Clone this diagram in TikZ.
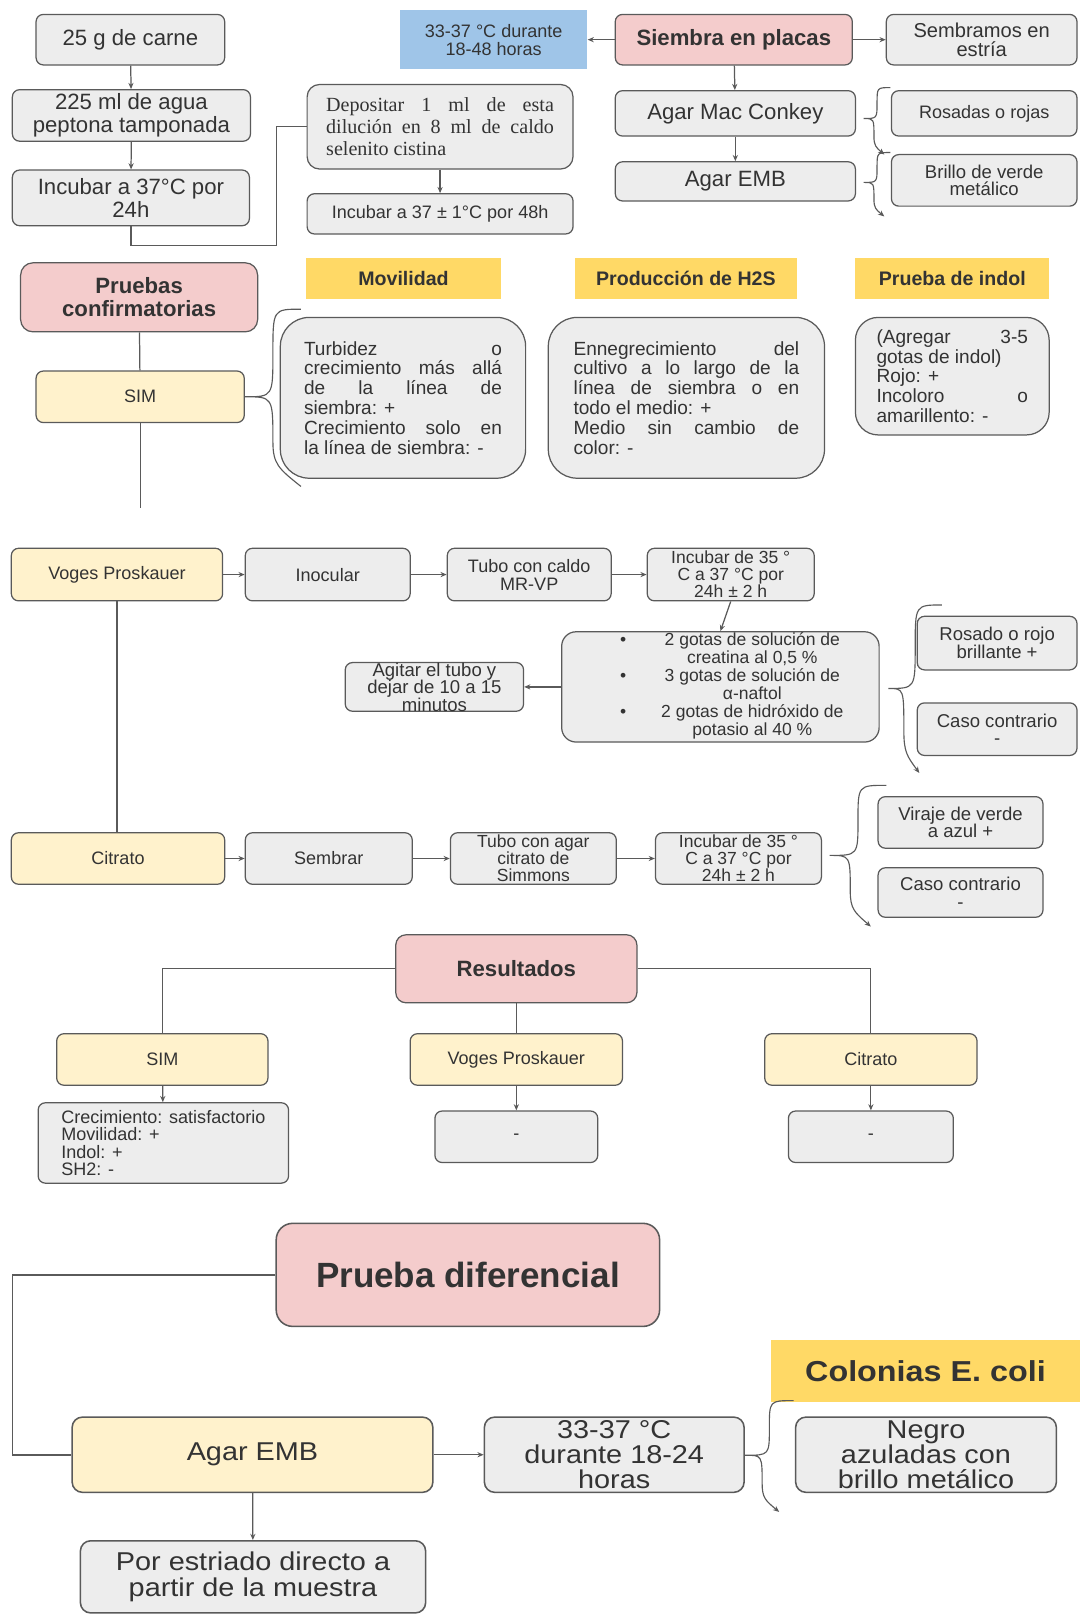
\documentclass[tikz,border=0pt]{standalone}
\usepackage{fontspec}
\setmainfont{Liberation Sans}
\newfontfamily\timesf{Liberation Serif}
\newfontfamily\widef[FakeStretch=1.12]{Liberation Sans}
\usetikzlibrary{arrows.meta,calc}
\definecolor{lc}{HTML}{5A5A5A}
\definecolor{tc}{HTML}{333333}
\definecolor{gfill}{HTML}{EDEDED}
\definecolor{pinkf}{HTML}{F4CCCC}
\definecolor{ylight}{HTML}{FFF2CC}
\definecolor{gold}{HTML}{FFD966}
\definecolor{bluef}{HTML}{9FC5E8}
\newcommand\fs[2]{\fontsize{#1}{#2}\selectfont}
% justified line of a given width
\newcommand\jl[2]{\makebox[#1pt][s]{#2}}
% box from its corners: style, name, x1, y1, x2, y2, text
\newcommand\bx[7]{\pgfmathsetmacro\bxw{#5-#3}\pgfmathsetmacro\bxh{#6-#4}%
  \node[#1,minimum width=\bxw pt,minimum height=\bxh pt] (#2) at ({(#3+#5)/2},{(#4+#6)/2}) {#7};}
% curly brace: top end, tip, bottom end
\newcommand\cbrace[4][brc]{%
  \draw[#1] let \p1=(#2), \p2=(#3), \p3=(#4) in
  (\p1) .. controls ({0.5*(\x1+\x2)},\y1) and ({0.5*(\x1+\x2)},\y1)
     .. ({0.5*(\x1+\x2)},{0.5*(\y1+\y2)})
  .. controls ({0.5*(\x1+\x2)},\y2) and ({0.5*(\x1+\x2)},\y2) .. (\p2)
  .. controls ({0.5*(\x2+\x3)},\y2) and ({0.5*(\x2+\x3)},\y2)
     .. ({0.5*(\x2+\x3)},{0.5*(\y2+\y3)})
  .. controls ({0.5*(\x2+\x3)},{0.75*\y3+0.25*\y2}) and ({0.4*(\x2+\x3)+0.2*\x3},{0.8*\y3+0.2*\y2}) .. (\p3);}
\begin{document}
\begin{tikzpicture}[x=1pt,y=-1pt,
  box/.style={draw=lc,line width=1.2pt,rounded corners=7pt,text=tc,align=center,
    inner sep=0pt,font=\fs{17.5}{17.5}},
  gbox/.style={box,fill=gfill},
  pbox/.style={box,fill=pinkf,font=\fs{21.5}{22}\bfseries},
  ybox/.style={box,fill=ylight},
  big/.style={font=\fs{21.5}{22}},
  huge/.style={font=\widef\fs{25}{24.5},line width=1.5pt},
  hbox/.style={fill=gold,text=tc,inner sep=0pt,font=\fs{19}{20}\bfseries},
  bbox/.style={fill=bluef,text=tc,inner sep=0pt,align=center,font=\fs{17.5}{17.5}},
  ln/.style={draw=lc,line width=1.2pt},
  arr/.style={ln,-{Stealth[length=6pt,width=5pt]}},
  brc/.style={draw=lc,line width=1.1pt,-{Stealth[length=6pt,width=5pt]}},
  brcn/.style={draw=lc,line width=1.1pt}]
\fill[white] (0,0) rectangle (1048,1568);
\useasboundingbox (0,0) rectangle (1048,1568);

% ---------- enrichment ----------
\bx{gbox,big}{carne}{35}{14}{218}{63}{25 g de carne}
\bx{gbox,big}{agua}{12}{87}{243}{137}{225 ml de agua\\peptona tamponada}
\bx{gbox,big}{inc1}{12}{165}{242}{219}{Incubar a 37°C por\\24h}
\bx{gbox,rounded corners=12pt,align=left,font=\timesf\fs{19.5}{21.5}}{dep}{298}{82}{556}{164}%
  {\jl{221}{Depositar 1 ml de esta}\\\jl{221}{dilución en 8 ml de caldo}\\selenito cistina}
\bx{gbox}{inc2}{298}{188}{556}{227}{Incubar a 37 ± 1°C por 48h}
\draw[arr] (carne) -- (agua);
\draw[arr] (agua) -- (inc1);
\coordinate (j1) at (268,238);
\draw[ln] (inc1.south) |- (j1) |- (dep.west);
\draw[arr] (dep) -- (inc2);

% ---------- plating ----------
\bx{bbox}{temp}{388}{10}{570}{67}{33-37 °C durante\\18-48 horas}
\bx{pbox}{siem}{597}{14}{827}{63}{Siembra en placas}
\bx{gbox,font=\fs{19.5}{18}}{estr}{860}{14}{1045}{63}{Sembramos en\\estría}
\bx{gbox,big}{mac}{597}{88}{830}{132}{Agar Mac Conkey}
\bx{gbox,big}{emb}{597}{157}{830}{195}{Agar EMB}
\bx{gbox}{ros}{865}{88}{1045}{132}{Rosadas o rojas}
\bx{gbox,font=\fs{18}{17}}{bril}{865}{150}{1045}{200}{Brillo de verde\\metálico}
\draw[arr] (siem) -- (temp);
\draw[arr] (siem) -- (estr);
\draw[arr] (siem) -- (mac);
\draw[arr] (mac) -- (emb);
\coordinate (b1t) at (864,85);  \coordinate (b1p) at (838,115); \coordinate (b1b) at (858,150);
\coordinate (b2t) at (864,148); \coordinate (b2p) at (838,177); \coordinate (b2b) at (858,210);
\cbrace{b1t}{b1p}{b1b}
\cbrace{b2t}{b2p}{b2b}

% ---------- confirmatory tests ----------
\bx{pbox,rounded corners=12pt}{pc}{20}{255}{250}{322}{Pruebas\\confirmatorias}
\bx{ybox}{sim}{35}{360}{237}{410}{SIM}
\draw[ln] (pc) -- (sim);
\coordinate (simend) at (136,493);
\draw[ln] (sim.south) -- (simend);
\bx{hbox}{hmov}{297}{250}{486}{290}{Movilidad}
\bx{hbox}{hh2s}{558}{250}{773}{290}{Producción de H2S}
\bx{hbox}{hind}{830}{250}{1018}{290}{Prueba de indol}
\bx{gbox,rounded corners=28pt,align=left,font=\fs{18.5}{19.2}}{tmov}{272}{308}{510}{464}%
  {\jl{192}{Turbidez o}\\\jl{192}{crecimiento más allá}\\\jl{192}{de la línea de}\\siembra: +\\%
   \jl{192}{Crecimiento solo en}\\la línea de siembra: -}
\bx{gbox,rounded corners=28pt,align=left,font=\fs{18.5}{19.2}}{th2s}{532}{308}{800}{464}%
  {\jl{219}{Ennegrecimiento del}\\\jl{219}{cultivo a lo largo de la}\\\jl{219}{línea de siembra o en}\\%
   todo el medio: +\\\jl{219}{Medio sin cambio de}\\color: -}
\bx{gbox,rounded corners=22pt,align=left,font=\fs{18.5}{19.2}}{tind}{830}{308}{1018}{422}%
  {\jl{147}{(Agregar 3-5}\\gotas de indol)\\Rojo: +\\\jl{147}{Incoloro o}\\amarillento: -}
\coordinate (b3t) at (292,300); \coordinate (b3b) at (292,472);
\cbrace[brcn]{b3t}{sim.east}{b3b}

% ---------- Voges Proskauer ----------
\bx{ybox}{vp}{11}{532}{216}{583}{Voges Proskauer}
\bx{gbox}{inoc}{238}{532}{398}{583}{Inocular}
\bx{gbox}{mrvp}{434}{532}{593}{583}{Tubo con caldo\\MR-VP}
\bx{gbox,font=\fs{17}{16.5}}{incv}{628}{532}{790}{583}{Incubar de 35 °\\C a 37 °C por\\24h ± 2 h}
\bx{gbox,rounded corners=14pt,font=\fs{17}{16.8}}{bul}{545}{613}{853}{720}%
  {\begin{tabular}{@{\hspace{22pt}}c@{\hspace{34pt}}c@{}}
   \textbullet & 2 gotas de solución de\\
   & creatina al 0,5 \%\\
   \textbullet & 3 gotas de solución de\\
   & α-naftol\\
   \textbullet & 2 gotas de hidróxido de\\
   & potasio al 40 \%
   \end{tabular}}
\bx{gbox,font=\fs{18}{17}}{agit}{335}{643}{508}{690}{Agitar el tubo y\\dejar de 10 a 15\\minutos}
\bx{gbox,font=\fs{18}{17}}{vpos}{890}{598}{1045}{650}{Rosado o rojo\\brillante +}
\bx{gbox,font=\fs{18}{17}}{vneg}{890}{682}{1045}{733}{Caso contrario\\-}
\draw[arr] (vp) -- (inoc);
\draw[arr] (inoc) -- (mrvp);
\draw[arr] (mrvp) -- (incv);
\draw[arr] (incv.south) -- (bul.north);
\draw[arr] (bul) -- (agit);
\coordinate (b4t) at (914,587); \coordinate (b4p) at (862,668); \coordinate (b4b) at (892,750);
\cbrace{b4t}{b4p}{b4b}

% ---------- Citrato ----------
\bx{ybox}{cit}{11}{808}{218}{858}{Citrato}
\bx{gbox}{semb}{238}{808}{400}{858}{Sembrar}
\bx{gbox,font=\fs{17}{16.5}}{simm}{437}{808}{598}{858}{Tubo con agar\\citrato de\\Simmons}
\bx{gbox,font=\fs{17}{16.5}}{incc}{636}{808}{797}{858}{Incubar de 35 °\\C a 37 °C por\\24h ± 2 h}
\bx{gbox,font=\fs{18}{17}}{cpos}{852}{773}{1012}{823}{Viraje de verde\\a azul +}
\bx{gbox,font=\fs{18}{17}}{cneg}{852}{842}{1012}{890}{Caso contrario\\-}
\draw[ln] (vp.south) -- (vp.south |- cit.north);
\draw[arr] (cit) -- (semb);
\draw[arr] (semb) -- (simm);
\draw[arr] (simm) -- (incc);
\coordinate (b5t) at (860,762); \coordinate (b5p) at (805,830); \coordinate (b5b) at (845,899);
\cbrace{b5t}{b5p}{b5b}

% ---------- results ----------
\bx{pbox,rounded corners=10pt}{res}{384}{907}{618}{973}{Resultados}
\bx{ybox}{rsim}{55}{1003}{260}{1053}{SIM}
\bx{ybox}{rvp}{398}{1003}{604}{1053}{Voges Proskauer}
\bx{ybox}{rcit}{742}{1003}{948}{1053}{Citrato}
\bx{gbox,align=left,font=\fs{17.5}{17}}{rsimt}{37}{1070}{280}{1148}%
  {Crecimiento: satisfactorio\\Movilidad: +\\Indol: +\\SH2: -}
\bx{gbox}{rvpt}{422}{1078}{580}{1128}{-}
\bx{gbox}{rcitt}{765}{1078}{925}{1128}{-}
\draw[ln] (res.west) -| (rsim.north);
\draw[ln] (res.east) -| (rcit.north);
\draw[ln] (res.south) -- (rvp.north);
\draw[arr] (rsim) -- (rsimt);
\draw[arr] (rvp) -- (rvpt);
\draw[arr] (rcit) -- (rcitt);

% ---------- differential test ----------
\bx{pbox,rounded corners=16pt,line width=1.5pt,font=\fs{34}{36}\bfseries}{pd}{268}{1187}{640}{1287}{Prueba diferencial}
\bx{hbox,font=\widef\fs{28}{30}\bfseries}{ecoli}{748}{1300}{1048}{1360}{Colonias E. coli}
\bx{ybox,huge,rounded corners=10pt}{aemb}{70}{1375}{420}{1448}{Agar EMB}
\bx{gbox,huge,rounded corners=10pt}{tdur}{470}{1375}{722}{1448}{33-37 °C\\durante 18-24\\horas}
\bx{gbox,huge,rounded corners=10pt}{negro}{772}{1375}{1025}{1448}{Negro\\azuladas con\\brillo metálico}
\bx{gbox,huge,font=\widef\fs{25}{26},rounded corners=10pt}{estd}{78}{1495}{413}{1565}{Por estriado directo a\\partir de la muestra}
\coordinate (j2) at (12,1237);
\draw[ln,line width=1.5pt] (pd.west) -- (j2) |- (aemb.west);
\draw[arr] (aemb) -- (tdur);
\draw[arr] (aemb) -- (estd);
\coordinate (b6t) at (770,1359); \coordinate (b6p) at (723,1412); \coordinate (b6b) at (756,1467);
\cbrace{b6t}{b6p}{b6b}
\end{tikzpicture}
\end{document}
